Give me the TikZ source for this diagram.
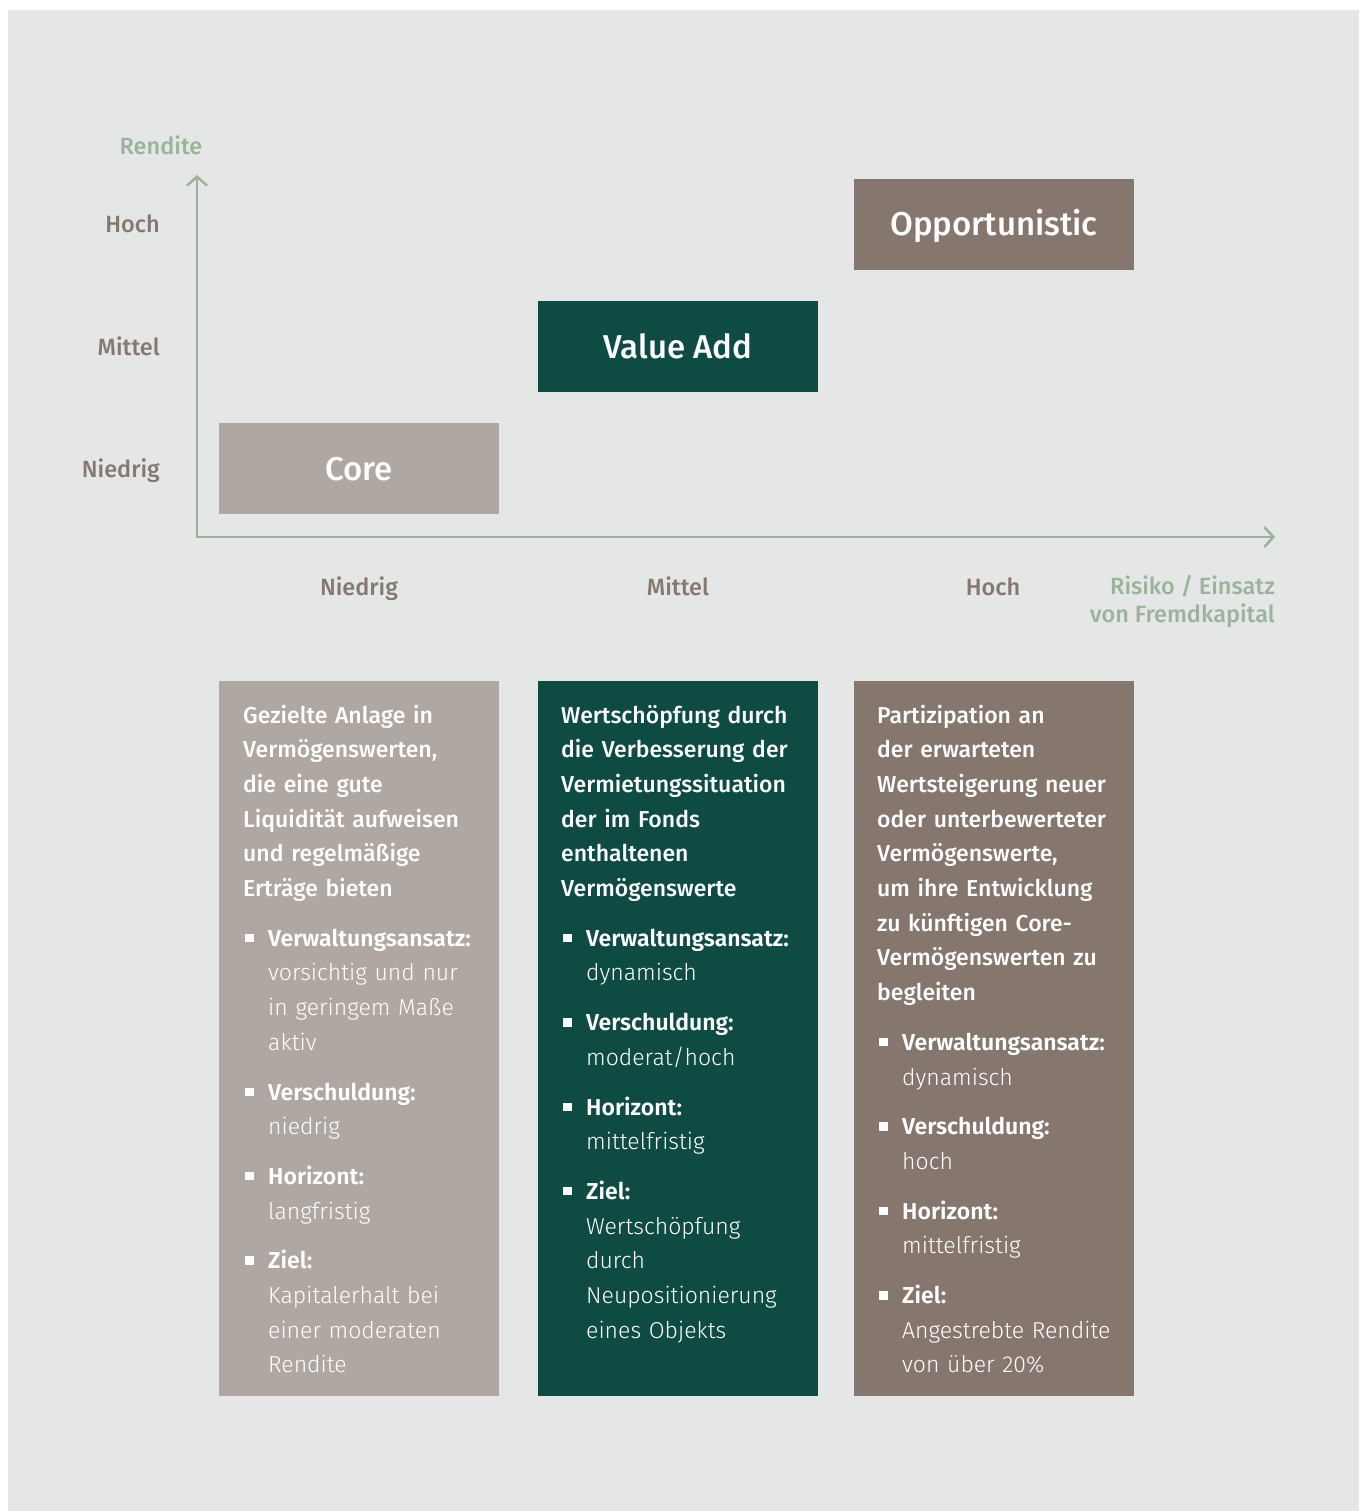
\documentclass[tikz,border=0pt]{standalone}
\usepackage{fontspec}
\setmainfont{Fira Sans}
\newfontfamily\medfont{Fira Sans Medium}
\newfontfamily\lightfont{Fira Sans Light}
\newfontfamily\semifont{Fira Sans SemiBold}
\usetikzlibrary{arrows.meta}
\newcommand\bpunkt[1]{\makebox[25pt][l]{\hspace{2pt}\rule[4pt]{8.5pt}{8.5pt}}{\semifont #1}}
\newcommand\bwert[1]{\hspace*{25pt}{\lightfont #1}}
\begin{document}
\begin{tikzpicture}[x=1pt, y=-1pt, font=\medfont\fontsize{23.5}{34.7}\selectfont,
  achse/.style={draw=achsgruen, line width=2.5pt},
  achslabel/.style={text=labelbraun, inner sep=0pt},
  gruenlabel/.style={text=achsgruen, inner sep=0pt},
  stufe/.style={minimum width=280pt, minimum height=91pt, inner sep=0pt, text=white,
    font=\medfont\fontsize{33}{33}\selectfont, text height=23pt, text depth=0pt},
  spalte/.style={text=white, inner sep=0pt, text width=300pt, align=left, font=\medfont\fontsize{23}{34.7}\selectfont}]
\definecolor{hintergrund}{HTML}{E5E7E6}
\definecolor{achsgruen}{HTML}{9BB39B}
\definecolor{labelbraun}{HTML}{857870}
\definecolor{corebraun}{HTML}{AFA7A1}
\definecolor{valuegruen}{HTML}{0E4C43}
\definecolor{oppbraun}{HTML}{85776E}
\useasboundingbox (0,0) rectangle (1359,1511);
\fill[white] (0,0) rectangle (1359,1511);
\fill[hintergrund] (8,10) rectangle (1359,1511);

\coordinate (ytip) at (197,175);
\coordinate (xtip) at (1275,537);
\draw[achse, {Straight Barb[length=9pt,width=20pt]}-{Straight Barb[length=9pt,width=20pt]}] (ytip) |- (xtip);
\node[gruenlabel, anchor=base] (rendite) at (161,155) {Rendite};
\foreach \name/\y in {Hoch/233, Mittel/355, Niedrig/477}
  \node[achslabel, anchor=base east] (y\name) at (160,\y) {\name};
\foreach \name/\x in {Niedrig/359, Mittel/678, Hoch/993}
  \node[achslabel, anchor=base] (x\name) at (\x,595) {\name};
\node[gruenlabel, anchor=base east, align=right, font=\medfont\fontsize{23.5}{28}\selectfont] (risiko) at (1275,622) {Risiko / Einsatz\\von Fremdkapital};

\node[stufe, fill=corebraun] (core) at (359,468.5) {Core};
\node[stufe, fill=valuegruen] (valueadd) at (678,346.5) {Value Add};
\node[stufe, fill=oppbraun] (opport) at (994,224.5) {Opportunistic};

\fill[corebraun] (219,681) rectangle (499,1396);
\fill[valuegruen] (538,681) rectangle (818,1396);
\fill[oppbraun] (854,681) rectangle (1134,1396);

\node[spalte, anchor=base west] (coretext) at (243,723) {Gezielte Anlage in\\Vermögenswerten,\\die eine gute\\Liquidität aufweisen\\und regelmäßige\\Erträge bieten\\[15pt]
\bpunkt{Verwaltungsansatz:}\\\bwert{vorsichtig und nur}\\\bwert{in geringem Maße}\\\bwert{aktiv}\\[15pt]
\bpunkt{Verschuldung:}\\\bwert{niedrig}\\[15pt]
\bpunkt{Horizont:}\\\bwert{langfristig}\\[15pt]
\bpunkt{Ziel:}\\\bwert{Kapitalerhalt bei}\\\bwert{einer moderaten}\\\bwert{Rendite}};

\node[spalte, anchor=base west] (valuetext) at (561,723) {Wertschöpfung durch\\die Verbesserung der\\Vermietungssituation\\der im Fonds\\enthaltenen\\Vermögenswerte\\[15pt]
\bpunkt{Verwaltungsansatz:}\\\bwert{dynamisch}\\[15pt]
\bpunkt{Verschuldung:}\\\bwert{moderat/hoch}\\[15pt]
\bpunkt{Horizont:}\\\bwert{mittelfristig}\\[15pt]
\bpunkt{Ziel:}\\\bwert{Wertschöpfung}\\\bwert{durch}\\\bwert{Neupositionierung}\\\bwert{eines Objekts}};

\node[spalte, anchor=base west] (opptext) at (877,723) {Partizipation an\\der erwarteten\\Wertsteigerung neuer\\oder unterbewerteter\\Vermögenswerte,\\um ihre Entwicklung\\zu künftigen Core-\\Vermögenswerten zu\\begleiten\\[15pt]
\bpunkt{Verwaltungsansatz:}\\\bwert{dynamisch}\\[15pt]
\bpunkt{Verschuldung:}\\\bwert{hoch}\\[15pt]
\bpunkt{Horizont:}\\\bwert{mittelfristig}\\[15pt]
\bpunkt{Ziel:}\\\bwert{Angestrebte Rendite}\\\bwert{von über 20\%}};
\end{tikzpicture}
\end{document}
